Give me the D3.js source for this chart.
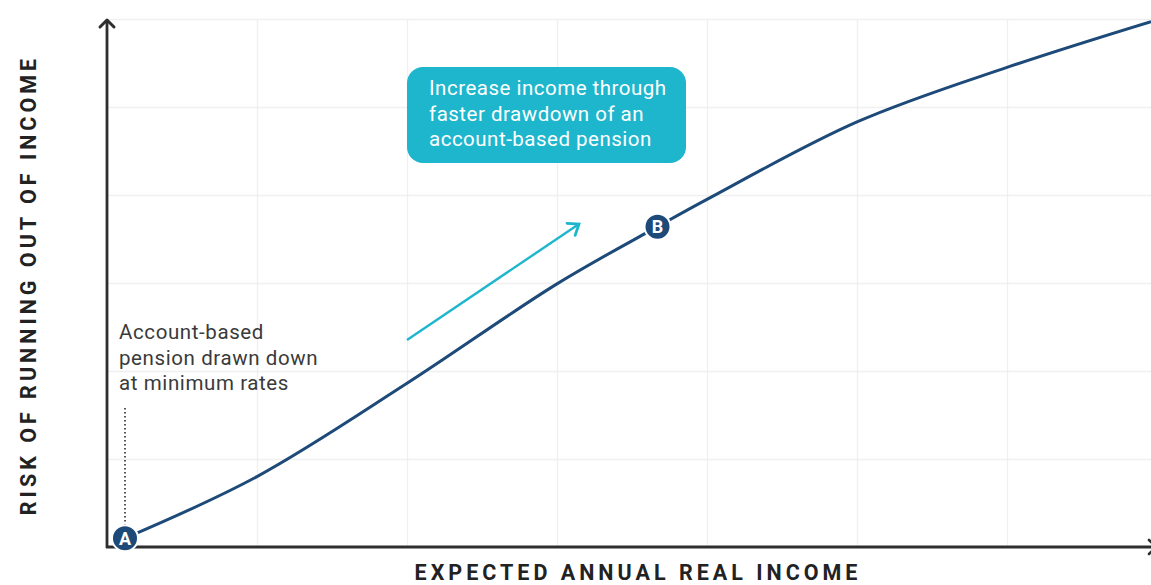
<!DOCTYPE html>
<html>
<head>
<meta charset="utf-8">
<script src="https://cdn.jsdelivr.net/npm/d3@7"></script>
<style>
  html, body { margin: 0; padding: 0; background: #fff; }
  svg { display: block; }
  text { font-family: Roboto, "Noto Sans", sans-serif; }
</style>
</head>
<body>
<svg id="chart" width="1151" height="585"></svg>
<script>
// Income (in grid units) against risk of running out of income (in grid units)
const incomeValues = [0.12, 1.0, 2.0, 3.0, 3.67, 4.0, 5.0, 6.0, 6.96];
const riskValues   = [0.10, 0.80, 1.86, 2.99, 3.64, 3.95, 4.83, 5.45, 5.97];

// Labelled strategy points on the curve
const pointLabels = ["A", "B"];
const pointIncome = [0.12, 3.67];
const pointRisk   = [0.10, 3.64];

const xGridTicks = [1, 2, 3, 4, 5, 6];
const yGridTicks = [1, 2, 3, 4, 5, 6];

const xTitle = "EXPECTED ANNUAL REAL INCOME";
const yTitle = "RISK OF RUNNING OUT OF INCOME";
const calloutLines = ["Increase income through", "faster drawdown of an", "account-based pension"];
const noteLines = ["Account-based", "pension drawn down", "at minimum rates"];

const svg = d3.select("#chart");
const W = 1151, H = 585;
const origin = { x: 107, y: 547 };

const x = d3.scaleLinear().domain([0, 6.96]).range([origin.x, origin.x + 6.96 * 150]);
const y = d3.scaleLinear().domain([0, 6]).range([origin.y, origin.y - 6 * 88]);

const navy = "#1d4a78";
const teal = "#1db6cd";
const axisColor = "#2e2e2e";
const titleFont = '"Liberation Sans", Arial, sans-serif';

// Light grid
const grid = svg.append("g");
grid.append("g")
  .attr("transform", `translate(0,${origin.y})`)
  .call(d3.axisBottom(x).tickValues(xGridTicks).tickSize(-(origin.y - y(6))).tickFormat(""))
  .call(g => g.select(".domain").remove())
  .call(g => g.selectAll("line").attr("stroke", "#f0f0f0").attr("stroke-width", 1.3));
grid.append("g")
  .attr("transform", `translate(${origin.x},0)`)
  .call(d3.axisLeft(y).tickValues(yGridTicks).tickSize(-(W - origin.x)).tickFormat(""))
  .call(g => g.select(".domain").remove())
  .call(g => g.selectAll("line").attr("stroke", "#f0f0f0").attr("stroke-width", 1.3));

// Axes with arrow heads
svg.append("line")
  .attr("x1", origin.x).attr("y1", origin.y + 1)
  .attr("x2", origin.x).attr("y2", y(6) + 1)
  .attr("stroke", axisColor).attr("stroke-width", 2.8);
svg.append("path")
  .attr("d", `M${origin.x - 7},${y(6) + 8} L${origin.x},${y(6) + 1} L${origin.x + 7},${y(6) + 8}`)
  .attr("fill", "none").attr("stroke", axisColor).attr("stroke-width", 3)
  .attr("stroke-linecap", "round").attr("stroke-linejoin", "round");
svg.append("line")
  .attr("x1", origin.x - 1).attr("y1", origin.y)
  .attr("x2", W + 5).attr("y2", origin.y)
  .attr("stroke", axisColor).attr("stroke-width", 2.8);
svg.append("path")
  .attr("d", `M${W - 2},${origin.y - 7} L${W + 5},${origin.y} L${W - 2},${origin.y + 7}`)
  .attr("fill", "none").attr("stroke", axisColor).attr("stroke-width", 2.6)
  .attr("stroke-linecap", "round");

// Axis titles
svg.append("text")
  .attr("x", 638).attr("y", 580)
  .attr("text-anchor", "middle")
  .attr("font-family", titleFont)
  .attr("font-size", 21.5).attr("font-weight", 700)
  .attr("letter-spacing", 4)
  .attr("fill", "#222")
  .text(xTitle);
svg.append("text")
  .attr("transform", `translate(36,285) rotate(-90)`)
  .attr("text-anchor", "middle")
  .attr("font-family", titleFont)
  .attr("font-size", 21.5).attr("font-weight", 700)
  .attr("letter-spacing", 4)
  .attr("fill", "#222")
  .text(yTitle);

// Dotted marker above point A
svg.append("line")
  .attr("x1", x(pointIncome[0])).attr("y1", 408)
  .attr("x2", x(pointIncome[0])).attr("y2", y(pointRisk[0]) - 11)
  .attr("stroke", "#555").attr("stroke-width", 2)
  .attr("stroke-dasharray", "1.5,2.5");

// Note near point A
const note = svg.append("text")
  .attr("x", 119).attr("y", 339)
  .attr("font-size", 20.5).attr("letter-spacing", 0.6).attr("fill", "#3a3a3a");
noteLines.forEach((t, i) => note.append("tspan").attr("x", 119).attr("dy", i ? 25.5 : 0).text(t));

// Risk curve
const line = d3.line()
  .x((d, i) => x(incomeValues[i]))
  .y((d, i) => y(riskValues[i]))
  .curve(d3.curveCatmullRom.alpha(0.5));
svg.append("path")
  .datum(incomeValues)
  .attr("d", line)
  .attr("fill", "none")
  .attr("stroke", navy)
  .attr("stroke-width", 3);

// Direction arrow
const ax1 = 407, ay1 = 340, ax2 = 579, ay2 = 224;
svg.append("line")
  .attr("x1", ax1).attr("y1", ay1).attr("x2", ax2).attr("y2", ay2)
  .attr("stroke", teal).attr("stroke-width", 2.4);
{
  const ang = Math.atan2(ay2 - ay1, ax2 - ax1);
  const len = 12, spread = 0.65;
  const p1 = [ax2 - len * Math.cos(ang - spread), ay2 - len * Math.sin(ang - spread)];
  const p2 = [ax2 - len * Math.cos(ang + spread), ay2 - len * Math.sin(ang + spread)];
  svg.append("path")
    .attr("d", `M${p1[0]},${p1[1]} L${ax2},${ay2} L${p2[0]},${p2[1]}`)
    .attr("fill", "none").attr("stroke", teal).attr("stroke-width", 2.8)
    .attr("stroke-linejoin", "miter").attr("stroke-linecap", "round");
}

// Callout box
svg.append("rect")
  .attr("x", 407).attr("y", 67).attr("width", 279).attr("height", 96)
  .attr("rx", 16).attr("ry", 16)
  .attr("fill", teal);
const callout = svg.append("text")
  .attr("x", 429).attr("y", 95)
  .attr("font-size", 20.5).attr("letter-spacing", 0.5).attr("fill", "#fff");
calloutLines.forEach((t, i) => callout.append("tspan").attr("x", 429).attr("dy", i ? 25.5 : 0).text(t));

// Labelled points
const pts = svg.append("g").selectAll("g")
  .data(pointLabels)
  .join("g")
  .attr("transform", (d, i) => `translate(${x(pointIncome[i])},${y(pointRisk[i])})`);
pts.append("circle")
  .attr("r", 13)
  .attr("fill", navy)
  .attr("stroke", "#fff").attr("stroke-width", 2);
pts.append("text")
  .attr("text-anchor", "middle")
  .attr("dy", "0.36em")
  .attr("font-size", 18).attr("font-weight", 700)
  .attr("fill", "#fff")
  .text(d => d);
</script>
</body>
</html>
